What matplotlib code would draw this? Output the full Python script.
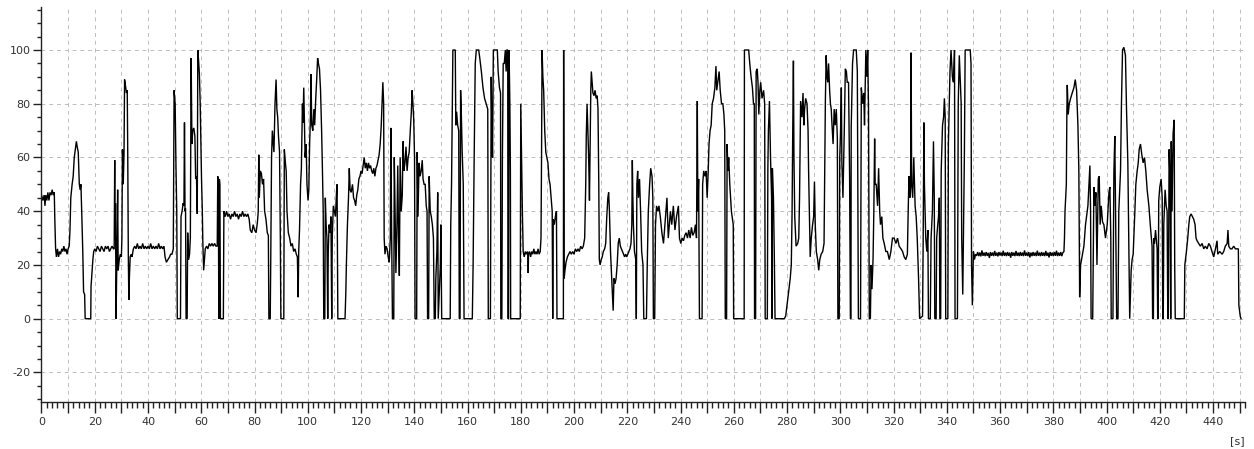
import matplotlib
matplotlib.use("Agg")
import matplotlib.pyplot as plt
from matplotlib.ticker import MultipleLocator, FuncFormatter

# ---- data: (time [s], value) ----
seg_000_035 = [(0,46),(0.5,44),(1,46),(1.3,42),(1.6,46),(2,44),(2.4,47),(2.8,44),(3.2,47),(3.6,46),(4,48),(4.4,46),(4.8,47),
    (5.0,37),(5.3,26),(5.6,23),(6,26),(6.4,23),(6.8,25),(7.2,24),(7.6,26),(8,25),(8.4,27),(8.8,25),(9.2,26),(9.6,24),(10,26),
    (10.4,27),(10.7,33),(11,45),(11.5,50),(11.9,53),(12.3,60),(12.7,63),(13.1,66),(13.4,64),(13.8,62),(14.2,50),(14.5,48),
    (14.8,50),(15.1,40),(15.5,25),(15.8,10),(16.2,9),(16.4,0),(18.5,0),(18.6,12),(19.0,18),(19.3,22),(19.6,25),(20,26),
    (20.5,25),(21,27),(21.5,26),(22,25),(22.5,27),(23,26),(23.5,25),(24,27),(24.5,26),(25,27),(25.5,25),(26,26),(26.5,27),
    (27,26),(27.3,26),(27.5,59),(27.6,30),(27.8,43),(28.0,0),(28.3,22),(28.6,48),(28.8,18),(29.2,22),(29.6,24),(30,23),
    (30.2,30),(30.4,63),(30.7,50),(31.0,62),(31.2,89),(31.5,87),(31.9,84),(32.2,85),(32.4,60),(32.6,24),(32.8,7),(33.0,15),
    (33.3,23),(33.7,24),(34,23),(34.5,26),(35,27)]
seg_035_062 = [(35.5,26),(36,28),(36.5,26),(37,27),(37.5,26),(38,28),(38.5,26),(39,27),(39.5,26),(40,27),(40.5,26),(41,28),
    (41.5,26),(42,27),(42.5,26),(43,27),(43.5,26),(44,28),(44.5,26),(45,27),(45.5,26),(46,27),(46.4,23),(46.9,21),(47.5,22),
    (48.1,23),(48.5,24),(49,24),(49.5,26),(49.8,85),(50.2,80),(50.5,57),(50.8,40),(51.0,0),(52.2,0),(52.4,38),(52.8,40),
    (53.2,43),(53.5,42),(53.7,73),(53.9,40),(54.1,41),(54.3,0),(54.7,0),(54.9,32),(55.2,22),(55.6,24),(55.9,30),(56.2,97),
    (56.5,65),(56.8,70),(57.2,71),(57.6,68),(57.9,52),(58.2,53),(58.5,39),(58.7,100),(59.0,96),(59.3,91),(59.6,80),(59.9,62),
    (60.1,52),(60.4,40),(60.6,28),(60.9,18),(61.2,22),(61.5,26),(62,27)]
seg_062_114 = [(62.5,26),(63,28),(63.5,27),(64,28),(64.5,27),(65,28),(65.5,27),(66,27),(66.2,53),(66.4,50),(66.6,0),
    (66.8,52),(67.0,50),(67.2,0),(68.3,0),(68.5,40),(69,38),(69.5,40),(70,38),(70.5,39),(71,37),(71.5,39),(72,38),(72.5,40),
    (73,38),(73.5,39),(74,37),(74.5,39),(75,38),(75.5,40),(76,38),(76.5,39),(77,38),(77.5,39),(78,37),(78.4,33),(79,32),
    (79.5,35),(80,33),(80.6,32),(81.1,36),(81.4,40),(81.6,61),(81.8,45),(82.2,55),(82.6,54),(83,50),(83.4,52),(83.8,40),
    (84.3,37),(84.8,32),(85.2,31),(85.4,0),(85.9,0),(86.1,22),(86.4,60),(86.7,70),(87.0,66),(87.3,62),(87.7,80),(88.1,89),
    (88.4,78),(88.7,75),(89.0,68),(89.4,62),(89.7,30),(89.9,0),(91.0,0),(91.2,63),(91.6,58),(91.9,55),(92.2,40),(92.7,32),
    (93.2,30),(93.7,27),(94.2,28),(94.7,25),(95.2,26),(95.7,24),(96.1,23),(96.4,8),(96.6,25),(96.9,33),(97.3,50),(97.6,56),
    (98.0,80),(98.2,73),(98.5,86),(98.8,70),(99,60),(99.4,65),(99.7,50),(100.1,44),(100.4,48),(100.7,65),(101.0,75),
    (101.2,91),(101.5,72),(101.9,70),(102.3,78),(102.6,72),(103.0,82),(103.4,90),(103.7,97),(104.0,95),(104.4,93),(104.8,85),
    (105.2,70),(105.5,56),(105.8,40),(106,0),(106.4,0),(106.6,45),(106.9,35),(107.2,30),(107.5,0),(107.7,25),(108,35),
    (108.4,32),(108.7,38),(109,0),(109.2,30),(109.6,42),(110,40),(110.4,38),(110.8,47),(111,50),(111.3,0),(114.0,0)]
seg_114_162 = [(114.3,10),(114.5,20),(114.9,35),(115.3,45),(115.6,56),(115.9,48),(116.3,47),(116.8,50),(117.2,45),
    (117.6,44),(118.0,42),(118.4,46),(118.8,48),(119.2,52),(119.6,53),(120,55),(120.4,54),(120.8,57),(121.2,60),(121.6,56),
    (122,58),(122.4,55),(122.8,58),(123.2,56),(123.6,57),(124,55),(124.4,54),(124.8,56),(125.2,53),(125.6,56),(126,57),
    (126.4,59),(126.8,61),(127.2,65),(127.6,72),(128,82),(128.2,88),(128.5,80),(128.7,30),(129,24),(129.4,27),(129.8,26),
    (130.2,23),(130.6,21),(131.0,30),(131.2,71),(131.5,32),(131.8,0),(132.3,0),(132.5,60),(132.8,40),(133.1,17),(133.5,35),
    (133.8,57),(134.1,30),(134.4,16),(134.7,60),(135.1,40),(135.5,46),(135.8,66),(136.1,55),(136.5,58),(136.9,64),(137.3,55),
    (137.7,60),(138.1,62),(138.5,70),(138.9,77),(139.2,85),(139.5,80),(139.8,74),(140.1,60),(140.3,0),(140.9,0),(141.1,62),
    (141.4,38),(141.8,58),(142.2,53),(142.6,55),(143,59),(143.3,52),(143.7,50),(144.1,50),(144.5,42),(144.8,40),(145,0),
    (145.4,0),(145.6,53),(146.0,40),(146.4,38),(146.8,35),(147.2,30),(147.5,0),(147.9,0),(148.1,15),(148.5,25),(148.8,47),
    (149.0,0),(149.4,10),(149.8,20),(150.0,35),(150.3,0),(153.5,0),(153.7,35),(154.0,50),(154.3,80),(154.5,100),(155.4,100),
    (155.6,72),(155.9,77),(156.3,72),(156.7,70),(156.9,0),(157.2,0),(157.4,85),(157.7,75),(158.0,62),(158.4,50),(158.7,0),
    (161.8,0)]
seg_162_210 = [(162.1,20),(162.5,60),(162.9,95),(163.3,100),(164.2,100),(164.6,97),(165.2,92),(165.8,86),(166.4,82),
    (167.0,80),(167.6,78),(167.8,0),(168.6,0),(168.9,90),(169.1,75),(169.4,60),(169.7,100),(171.2,100),(171.5,92),(172.0,86),
    (172.4,84),(172.5,0),(172.9,0),(173.1,60),(173.4,95),(173.8,95),(174.2,100),(174.5,92),(174.8,100),(175.1,100),(175.2,0),
    (175.4,0),(175.6,100),(175.9,80),(176.1,55),(176.2,0),(179.8,0),(180.0,80),(180.3,60),(180.6,40),(180.9,25),(181.3,23),
    (181.7,25),(182.1,24),(182.5,25),(182.7,24),(182.8,17),(182.9,24),(183.3,25),(183.7,23),(184.1,25),(184.5,24),(184.9,26),
    (185.3,24),(185.7,25),(186.1,24),(186.5,26),(186.9,24),(187.3,25),(187.6,30),(187.8,60),(188.0,100),(188.3,90),(188.6,85),
    (189,70),(189.4,62),(189.8,60),(190.2,58),(190.6,52),(191,50),(191.4,45),(191.8,40),(192,0),(192.2,37),(192.6,35),
    (193,38),(193.4,40),(193.6,0),(196.0,0),(196.1,100),(196.3,15),(196.6,18),(197,21),(197.5,23),(198,24),(198.5,25),
    (199,24),(199.5,25),(200,24),(200.5,26),(201,25),(201.5,26),(202,25),(202.5,27),(203,26),(203.5,27),(204,30),(204.4,50),
    (204.6,68),(204.9,80),(205.2,70),(205.5,60),(205.8,44),(206.0,60),(206.3,85),(206.5,92),(206.8,88),(207.1,84),(207.5,83),
    (207.9,85),(208.3,82),(208.7,83),(209,78),(209.3,50),(209.5,22),(209.8,20),(210.2,22)]
seg_210_264 = [(210.6,23),(211,25),(211.5,26),(211.9,28),(212.3,38),(212.7,45),(213.0,47),(213.3,40),(213.7,25),
    (214.1,16),(214.4,10),(214.7,3),(215.0,15),(215.4,13),(215.8,15),(216.2,20),(216.6,28),(217,30),(217.4,27),(217.8,26),
    (218.2,25),(218.6,24),(219,23),(219.4,24),(219.8,23),(220.2,24),(220.6,25),(221,26),(221.4,28),(221.7,35),(221.9,59),
    (222.1,45),(222.3,35),(222.7,25),(223.2,22),(223.4,0),(223.6,50),(223.9,55),(224.2,45),(224.6,52),(225,40),(225.4,25),
    (225.9,20),(226.2,0),(227.2,0),(227.5,20),(227.9,40),(228.4,50),(228.8,56),(229.3,53),(229.6,45),(229.8,0),(230.3,0),
    (230.6,35),(231,42),(231.5,40),(231.9,42),(232.4,38),(233,32),(233.6,28),(234.2,36),(234.9,45),(235.4,30),(235.8,35),
    (236.2,40),(236.7,35),(237.3,42),(237.9,33),(238.5,38),(239.2,42),(239.6,30),(240.1,28),(240.6,30),(241.1,29),(241.6,31),
    (242.1,32),(242.6,30),(243.1,33),(243.6,30),(244.1,34),(244.6,31),(245.1,32),(245.6,35),(246,30),(246.3,81),(246.5,40),
    (246.8,52),(247.1,0),(248.1,0),(248.3,50),(248.7,55),(249.2,53),(249.6,55),(250,45),(250.4,55),(250.7,65),(251.1,70),
    (251.5,72),(251.9,80),(252.4,82),(252.9,86),(253.3,94),(253.6,85),(254.0,88),(254.5,92),(254.9,85),(255.4,80),(255.9,80),
    (256.3,76),(256.6,70),(256.8,0),(257.3,0),(257.5,65),(257.8,55),(258.1,60),(258.5,50),(258.8,45),(259.1,40),(259.5,37),
    (259.8,35),(259.95,0),(263.9,0)]
seg_264_311 = [(264.0,100),(265.6,100),(266.0,95),(266.5,90),(267.0,86),(267.4,80),(267.7,80),(267.8,0),(268.2,0),
    (268.4,92),(268.8,93),(269.1,88),(269.4,76),(269.8,85),(270.1,88),(270.6,82),(271.2,85),(271.6,80),(271.8,0),(272.6,0),
    (272.8,56),(273.0,70),(273.4,81),(273.8,60),(274.2,45),(274.3,0),(274.5,56),(274.9,45),(275.2,25),(275.5,0),(279,0),
    (279.5,1),(280,5),(280.6,10),(281.2,15),(281.6,20),(281.9,40),(282.1,65),(282.4,96),(282.6,60),(282.9,38),(283.4,27),
    (284,28),(284.4,30),(284.7,45),(285.1,81),(285.6,75),(286.0,84),(286.3,72),(286.6,78),(287,82),(287.5,80),(287.9,70),
    (288.1,55),(288.4,40),(288.7,23),(289.1,30),(289.6,35),(290,38),(290.3,51),(290.6,35),(291,25),(291.5,22),(291.9,18),
    (292.3,22),(292.8,24),(293.4,25),(293.9,28),(294.2,60),(294.4,81),(294.7,98),(295.0,90),(295.3,88),(295.6,95),(296.0,85),
    (296.3,80),(296.6,78),(296.9,72),(297.3,65),(297.7,78),(298.1,72),(298.5,78),(298.9,67),(299.1,0),(299.6,0),(299.8,60),
    (300.1,70),(300.4,86),(300.6,58),(301,45),(301.5,70),(301.9,93),(302.3,92),(302.6,88),(303.1,88),(303.5,53),(303.8,0),
    (304.0,0),(304.1,71),(304.6,95),(305.0,100),(306.0,100),(306.4,92),(306.8,0),(307.6,0),(307.9,86),(308.4,80),(308.8,84),
    (309.1,72),(309.6,100),(310,90),(310.3,100),(310.6,78),(310.9,0),(311.3,0)]
seg_311_351 = [(311.6,20),(311.9,11),(312.3,22),(312.6,40),(312.9,67),(313.1,50),(313.5,50),(314,42),(314.4,56),
    (314.8,40),(315.1,35),(315.6,38),(316,30),(316.5,28),(317.1,25),(317.7,25),(318.4,22),(319,25),(319.6,30),(320.2,30),
    (320.9,28),(321.5,30),(322.1,27),(322.8,26),(323.4,25),(324,23),(324.6,22),(325.2,24),(325.5,40),(325.8,53),(326.1,45),
    (326.4,50),(326.6,99),(326.8,50),(327.2,45),(327.6,60),(328.1,42),(328.5,38),(328.9,30),(329.4,15),(329.8,0),(330.9,1),
    (331.1,25),(331.4,73),(331.6,50),(332.1,30),(332.5,25),(332.9,33),(333.1,0),(333.8,0),(334.1,30),(334.6,40),(335,66),
    (335.3,45),(335.5,0),(336.0,0),(336.2,30),(336.6,35),(336.9,38),(337.2,45),(337.4,0),(337.7,0),(337.9,55),(338.4,72),
    (338.8,75),(339.1,82),(339.4,75),(339.6,0),(340.4,0),(340.6,65),(341.2,92),(341.6,100),(342.1,90),(342.5,88),(342.9,100),
    (343.1,0),(344.0,0),(344.3,80),(344.7,98),(345.1,88),(345.4,80),(345.6,30),(346.0,9),(346.3,35),(346.6,60),(346.9,100),
    (348.8,100),(349.1,95),(349.3,20),(349.6,5),(350,25),(350.4,22)]
seg_351_384 = [(350.8,24),(351.2,23.4),(351.6,24.8),(352,23.3),(352.4,24.6),(352.8,23.2),(353.2,25.4),(353.6,23.4),
    (354,24.6),(354.4,23.3),(354.8,24.8),(355.2,23.4),(355.6,24.5),(356,22.6),(356.4,24.8),(356.8,23.4),(357.2,24.6),
    (357.6,23.3),(358,25.2),(358.4,23.4),(358.8,24.6),(359.2,23.2),(359.6,24.8),(360,23.5),(360.4,24.6),(360.8,23.3),
    (361.2,25.3),(361.6,23.4),(362,24.6),(362.4,23.3),(362.8,24.8),(363.2,23.4),(363.6,24.6),(364,22.7),(364.4,24.8),
    (364.8,23.4),(365.2,24.6),(365.6,23.3),(366,25.2),(366.4,23.4),(366.8,24.6),(367.2,23.3),(367.6,24.8),(368,23.4),
    (368.4,24.6),(368.8,23.3),(369.2,25.4),(369.6,23.4),(370,24.6),(370.4,23.3),(370.8,24.8),(371.2,22.8),(371.6,24.6),
    (372,23.3),(372.4,24.8),(372.8,23.4),(373.2,24.6),(373.6,23.3),(374,25.3),(374.4,23.4),(374.8,24.6),(375.2,23.3),
    (375.6,24.8),(376,23.4),(376.4,24.6),(376.8,23.3),(377.2,25.2),(377.6,23.4),(378,24.6),(378.4,22.8),(378.8,24.8),
    (379.2,23.4),(379.6,24.6),(380,23.3),(380.4,24.8),(380.8,23.4),(381.2,25.3),(381.6,23.3),(382,24.6),(382.4,23.4),
    (382.8,24.8),(383.2,23.3),(383.6,24.6),(384,25)]
seg_384_451 = [(384.2,30),(384.4,40),(384.9,50),(385.1,77),(385.25,87),(385.6,76),(386,80),(386.5,82),(387.1,84),
    (387.75,86),(388.25,89),(388.75,85),(389.25,72),(389.6,55),(389.9,8),(390.25,20),(390.6,22),(391.1,25),(391.5,27),
    (392.1,35),(392.5,38),(393,42),(393.4,50),(393.75,57),(394.0,40),(394.2,0),(394.8,0),(395.25,49),(395.6,42),(396,47),
    (396.4,20),(396.9,52),(397.25,53),(397.6,35),(398,42),(398.5,36),(399,35),(399.6,30),(400.25,35),(400.9,47),(401.25,49),
    (401.6,30),(401.75,0),(402.4,0),(402.75,54),(403.1,68),(403.5,30),(403.8,0),(404.3,0),(404.6,40),(405.25,55),(405.6,80),
    (406,100),(406.5,101),(407.1,98),(407.5,78),(408,58),(408.4,23),(408.7,0),(409.0,10),(409.25,18),(409.6,22),(410,24),
    (410.25,30),(410.6,39),(411,50),(411.5,55),(411.9,58),(412.25,63),(412.75,65),(413.25,61),(413.75,58),(414.25,60),
    (414.75,55),(415.25,48),(415.9,42),(416.5,34),(417.1,27),(417.3,0),(417.6,0),(417.75,30),(418,28),(418.4,33),(419,26),
    (419.2,0),(419.4,0),(419.6,44),(420,49),(420.5,52),(420.9,45),(421.1,0),(421.3,0),(421.5,35),(422,48),(422.4,42),
    (422.75,40),(423.0,0),(423.2,0),(423.5,63),(423.9,50),(424.1,0),(424.3,66),(424.6,40),(425,69),(425.4,74),(425.6,20),
    (425.8,0),(429.2,0),(429.4,20),(430,25),(430.5,30),(430.9,35),(431.25,38),(431.75,39),(432.25,38),(432.75,37),
    (433.25,35),(433.6,30),(434,29),(434.6,28),(435.25,27),(435.9,28),(436.5,26),(437.1,27),(437.75,26),(438.4,28),(439,27),
    (439.6,25),(440.25,23),(440.9,26),(441.5,29),(441.75,24),(442.5,25),(443.4,24),(444,25),(444.6,27),(445.3,28),
    (445.6,33),(445.9,27),(446.5,26),(447.1,26),(447.75,27),(448.4,26),(449,26),(449.5,26),(449.7,5),(450.2,1),(450.5,0)]

segments = [seg_000_035, seg_035_062, seg_062_114, seg_114_162, seg_162_210,
            seg_210_264, seg_264_311, seg_311_351, seg_351_384, seg_384_451]
points = [p for seg in segments for p in seg]
t = [p[0] for p in points]
v = [p[1] for p in points]

x_unit = "[s]"

# ---- figure ----
W, H = 1254, 449
fig = plt.figure(figsize=(W / 100, H / 100), dpi=100)
x0_px, x1_px = 41.5, 1245
y0_px, y1_px = 7, 402
ax = fig.add_axes([x0_px / W, 1 - y1_px / H, (x1_px - x0_px) / W, (y1_px - y0_px) / H])

ax.plot(t, v, color="black", lw=1.0, solid_joinstyle="miter")

ax.set_xlim(0, 452)
ax.set_ylim(-31, 116)

ax.xaxis.set_major_locator(MultipleLocator(10))
ax.xaxis.set_minor_locator(MultipleLocator(2))
ax.yaxis.set_major_locator(MultipleLocator(20))
ax.yaxis.set_minor_locator(MultipleLocator(5))
ax.xaxis.set_major_formatter(FuncFormatter(lambda x, p: f"{int(round(x))}" if int(round(x)) % 20 == 0 else ""))
ax.yaxis.set_major_formatter(FuncFormatter(lambda y, p: f"{int(round(y))}" if -20 <= y <= 100 else ""))

ax.grid(True, which="major", color="#bdbdbd", lw=0.7, linestyle=(0, (4, 4)))

for s in ("top", "right"):
    ax.spines[s].set_visible(False)
for s in ("left", "bottom"):
    ax.spines[s].set_color("#222222")
    ax.spines[s].set_linewidth(1.0)

ax.tick_params(axis="x", which="major", direction="out", length=8, width=1, color="#222222",
               labelsize=8, labelcolor="#333333", pad=3)
ax.tick_params(axis="x", which="minor", direction="out", length=4, width=1, color="#222222")
ax.tick_params(axis="y", which="major", direction="out", length=6, width=1, color="#222222",
               labelsize=8, labelcolor="#333333", pad=2)
ax.tick_params(axis="y", which="minor", direction="out", length=3, width=1, color="#222222")

fig.text(1245 / W, 1 - 441 / H, x_unit, ha="right", va="center", fontsize=8, color="#333333")

fig.savefig("out.png", dpi=100)
